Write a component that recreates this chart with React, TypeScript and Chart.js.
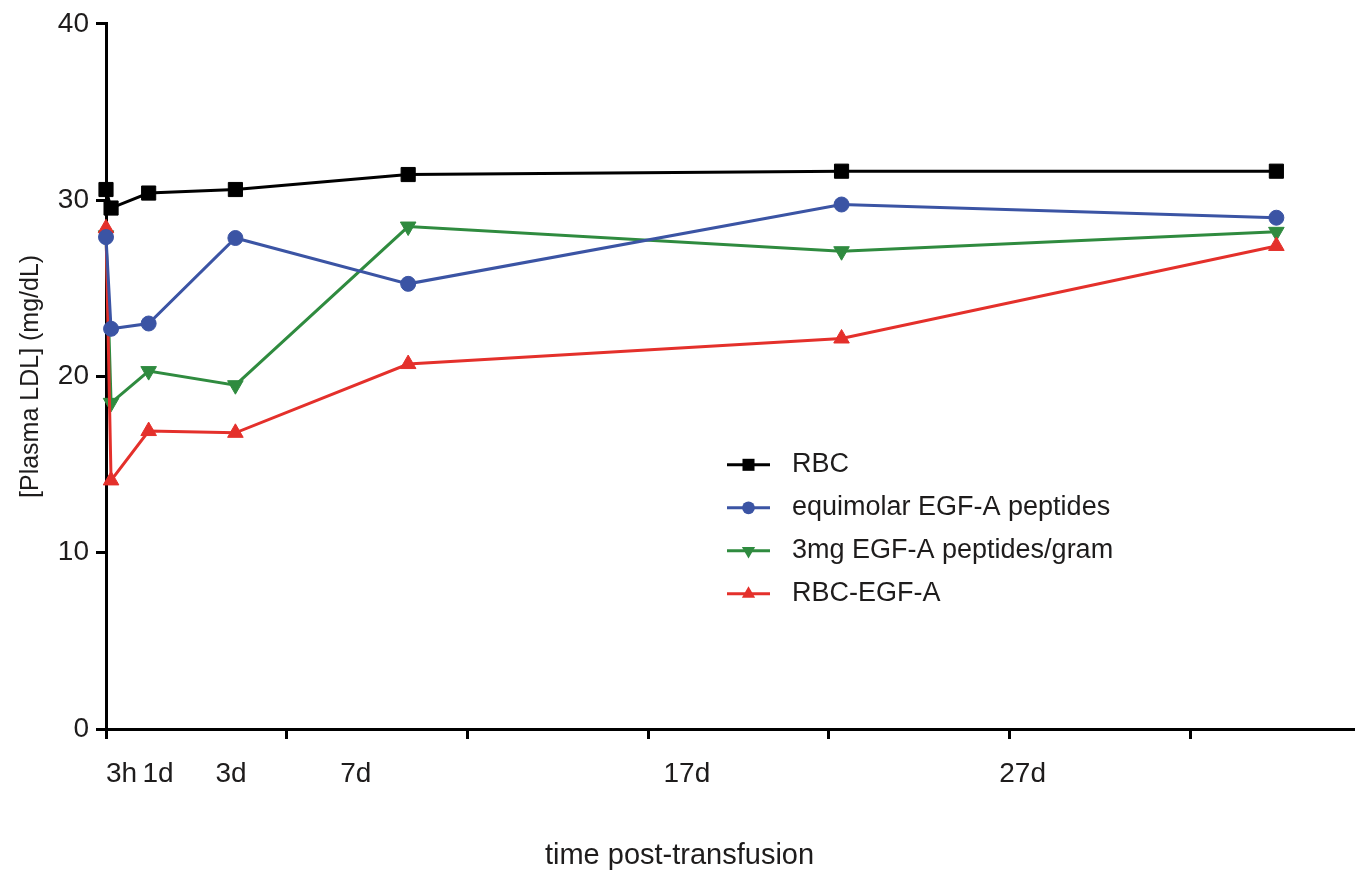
import React, { useEffect, useRef } from 'react';
import { Chart, registerables } from 'chart.js';

Chart.register(...registerables);

// ---- data ----
const X_DAYS = [0, 0.14, 1.18, 3.58, 8.36, 20.35, 32.38];
const RBC = [30.6, 29.55, 30.4, 30.6, 31.45, 31.64, 31.64];
const EQUIMOLAR = [27.9, 22.7, 23.0, 27.85, 25.25, 29.75, 29.0];
const THREE_MG = [28.0, 18.5, 20.3, 19.5, 28.5, 27.1, 28.2];
const RBC_EGFA = [28.4, 14.1, 16.9, 16.8, 20.7, 22.15, 27.4];

const SERIES_NAMES = ['RBC', 'equimolar EGF-A peptides', '3mg EGF-A peptides/gram', 'RBC-EGF-A'];

const X_TICK_MARKS = [0, 5, 10, 15, 20, 25, 30];
const X_LABEL_POS = [0.43, 1.44, 3.46, 6.91, 16.07, 25.36];
const X_LABELS = ['3h', '1d', '3d', '7d', '17d', '27d'];
const Y_TICKS = [0, 10, 20, 30, 40];

const X_TITLE = 'time post-transfusion';
const Y_TITLE = '[Plasma LDL] (mg/dL)';

const FAMILY = '"Liberation Sans", Arial, Helvetica, sans-serif';
const TEXT = '#1e1c1c';
const BLACK = '#000000';
const BLUE = '#3b54a4';
const GREEN = '#2f8b3f';
const RED = '#e4302b';

function drawMarker(ctx: CanvasRenderingContext2D, style: string, rotation: number, x: number, y: number, r: number, color: string) {
  ctx.fillStyle = color;
  ctx.beginPath();
  if (style === 'rect') {
    const s = r * Math.SQRT1_2;
    ctx.rect(x - s, y - s, 2 * s, 2 * s);
  } else if (style === 'circle') {
    ctx.arc(x, y, r, 0, Math.PI * 2);
  } else {
    let rad = (rotation * Math.PI) / 180;
    for (let k = 0; k < 3; k++) {
      const px = x + Math.sin(rad) * r;
      const py = y - Math.cos(rad) * r;
      if (k === 0) ctx.moveTo(px, py);
      else ctx.lineTo(px, py);
      rad += (2 * Math.PI) / 3;
    }
    ctx.closePath();
  }
  ctx.fill();
}

const insideLegend = {
  id: 'insideLegend',
  afterDatasetsDraw(chart: any) {
    const { ctx, chartArea } = chart;
    const x0 = chartArea.left + 621;
    const y0 = chartArea.top + 441;
    const rowH = 43;
    ctx.save();
    chart.data.datasets.forEach((ds: any, i: number) => {
      const y = y0 + i * rowH;
      ctx.strokeStyle = ds.borderColor;
      ctx.lineWidth = 3;
      ctx.beginPath();
      ctx.moveTo(x0, y);
      ctx.lineTo(x0 + 43, y);
      ctx.stroke();
      drawMarker(ctx, ds.pointStyle, ds.pointRotation || 0, x0 + 21.5, y, ds.pointRadius * 0.85, ds.backgroundColor);
      ctx.fillStyle = TEXT;
      ctx.font = `27px ${FAMILY}`;
      ctx.textAlign = 'left';
      ctx.textBaseline = 'middle';
      ctx.fillText(ds.label, x0 + 65, y);
    });
    ctx.restore();
  },
};

export default function App() {
  const canvasRef = useRef<HTMLCanvasElement | null>(null);

  useEffect(() => {
    if (!canvasRef.current) return;
    Chart.defaults.font.family = FAMILY;
    Chart.defaults.color = TEXT;

    const mk = (vals: number[]) => X_DAYS.map((x, i) => ({ x, y: vals[i] }));
    const base = { borderWidth: 3, pointBorderWidth: 1, clip: false as any, tension: 0, fill: false };

    const chart = new Chart(canvasRef.current, {
      type: 'line',
      data: {
        datasets: [
          { ...base, label: SERIES_NAMES[0], data: mk(RBC), borderColor: BLACK, backgroundColor: BLACK, pointBorderColor: BLACK, pointStyle: 'rect', pointRadius: 10, pointRotation: 0, order: 0 },
          { ...base, label: SERIES_NAMES[1], data: mk(EQUIMOLAR), borderColor: BLUE, backgroundColor: BLUE, pointBorderColor: BLUE, pointStyle: 'circle', pointRadius: 7.5, pointRotation: 0, order: 1 },
          { ...base, label: SERIES_NAMES[2], data: mk(THREE_MG), borderColor: GREEN, backgroundColor: GREEN, pointBorderColor: GREEN, pointStyle: 'triangle', pointRadius: 9, pointRotation: 180, order: 3 },
          { ...base, label: SERIES_NAMES[3], data: mk(RBC_EGFA), borderColor: RED, backgroundColor: RED, pointBorderColor: RED, pointStyle: 'triangle', pointRadius: 9, pointRotation: 0, order: 2 },
        ] as any,
      },
      options: {
        responsive: false,
        animation: false,
        events: [],
        layout: { padding: { top: 20, right: 5, bottom: 0, left: 0 } },
        plugins: {
          legend: { display: false },
          tooltip: { enabled: false },
          title: {
            display: true,
            text: X_TITLE,
            position: 'bottom',
            color: TEXT,
            font: { size: 29, weight: 'normal', family: FAMILY },
            padding: { top: 0, bottom: 0 },
          },
        },
        scales: {
          x: {
            type: 'linear',
            position: 'bottom',
            weight: 0,
            min: 0,
            max: 34.5,
            afterBuildTicks: (s: any) => {
              s.ticks = X_TICK_MARKS.map((v) => ({ value: v }));
            },
            ticks: { display: false },
            grid: { drawOnChartArea: false, drawTicks: true, tickLength: 10, lineWidth: 3, color: BLACK },
            border: { display: true, width: 3, color: BLACK },
            afterFit: (s: any) => {
              s.height = 10;
            },
          },
          xLabels: {
            type: 'linear',
            position: 'bottom',
            weight: 1,
            min: 0,
            max: 34.5,
            afterBuildTicks: (s: any) => {
              s.ticks = X_LABEL_POS.map((v) => ({ value: v }));
            },
            ticks: {
              autoSkip: false,
              maxRotation: 0,
              minRotation: 0,
              padding: 18,
              color: TEXT,
              font: { size: 28, family: FAMILY },
              callback: (_v: any, i: number) => X_LABELS[i],
            },
            grid: { display: false, drawTicks: false, drawOnChartArea: false },
            border: { display: false },
            afterFit: (s: any) => {
              s.height = 99.2;
            },
          },
          y: {
            type: 'linear',
            position: 'left',
            min: 0,
            max: 40,
            afterBuildTicks: (s: any) => {
              s.ticks = Y_TICKS.map((v) => ({ value: v }));
            },
            ticks: { padding: 7, color: TEXT, font: { size: 28, family: FAMILY } },
            grid: { drawOnChartArea: false, drawTicks: true, tickLength: 10, lineWidth: 3, color: BLACK },
            border: { display: true, width: 3, color: BLACK },
            title: {
              display: true,
              text: Y_TITLE,
              color: TEXT,
              font: { size: 25, family: FAMILY },
              padding: { top: 16, bottom: 0 },
            },
            afterFit: (s: any) => {
              s.width = 106;
            },
          },
        } as any,
      },
      plugins: [insideLegend],
    });

    return () => chart.destroy();
  }, []);

  return (
    <div style={{ position: 'absolute', left: 0, top: 0, width: 1364, height: 873, background: '#ffffff' }}>
      <canvas ref={canvasRef} width={1364} height={873} style={{ display: 'block' }} />
    </div>
  );
}
